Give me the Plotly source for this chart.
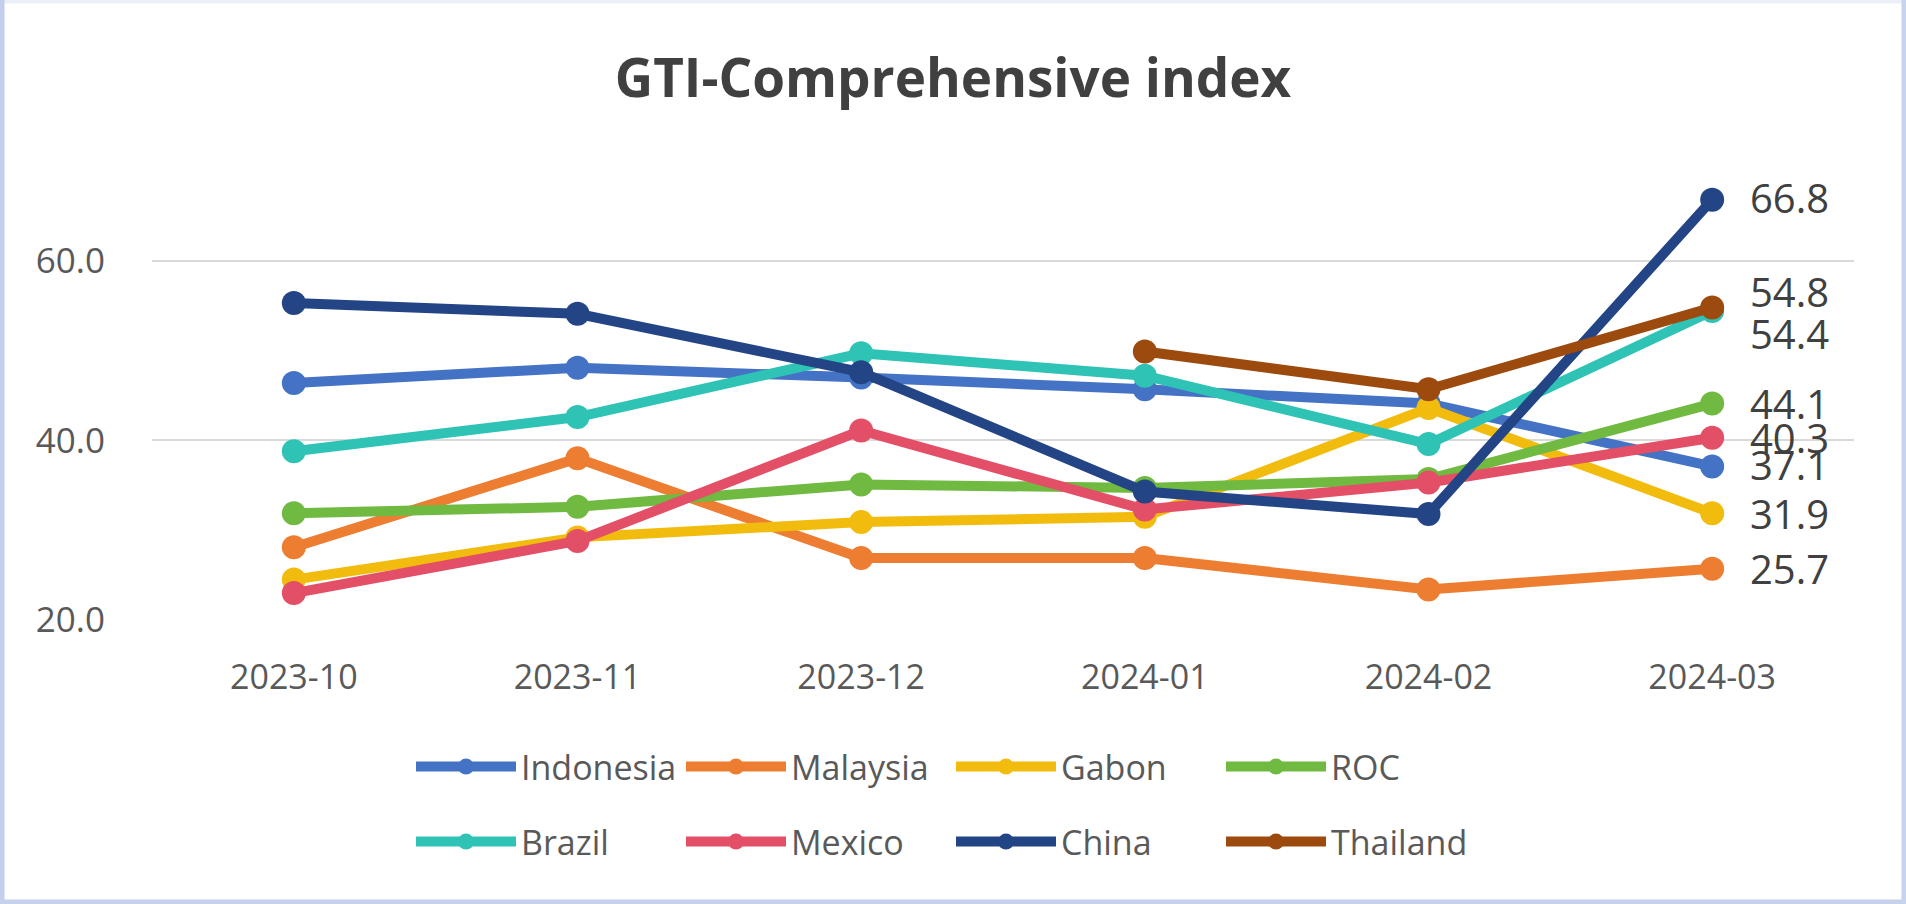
import plotly.graph_objects as go

months = ["2023-10", "2023-11", "2023-12", "2024-01", "2024-02", "2024-03"]
indonesia = [46.4, 48.1, 47.0, 45.7, 44.1, 37.1]
malaysia = [28.1, 38.0, 26.9, 26.9, 23.4, 25.7]
gabon = [24.5, 29.2, 30.9, 31.5, 43.6, 31.9]
roc = [31.9, 32.6, 35.1, 34.7, 35.7, 44.1]
brazil = [38.8, 42.6, 49.7, 47.2, 39.6, 54.4]
mexico = [23.0, 28.8, 41.1, 32.3, 35.3, 40.3]
china = [55.3, 54.1, 47.6, 34.3, 31.8, 66.8]
thailand = [None, None, None, 49.9, 45.7, 54.8]

# (name, values, colour, legend row, vertical label nudge in px)
series = [
    ("Indonesia", indonesia, "#4472C4", "legend", 2),
    ("Malaysia", malaysia, "#ED7D31", "legend", 0),
    ("Gabon", gabon, "#F2BC0F", "legend", 0),
    ("ROC", roc, "#70BA41", "legend", 0),
    ("Brazil", brazil, "#2EC3B5", "legend2", -22),
    ("Mexico", mexico, "#E34F66", "legend2", 0),
    ("China", china, "#234485", "legend2", 2),
    ("Thailand", thailand, "#9C4A0E", "legend2", 16),
]

FONT = "Open Sans"
GREY = "#595959"

fig = go.Figure()
for name, vals, color, lg, dy in series:
    fig.add_trace(go.Scatter(
        x=months, y=vals, name=name, mode="lines+markers",
        line=dict(color=color, width=10),
        marker=dict(color=color, size=24),
        legend=lg, cliponaxis=False,
    ))
    fig.add_annotation(x=months[-1], y=vals[-1], text=f"{vals[-1]:.1f}",
                       showarrow=False, xanchor="left", yanchor="middle",
                       xshift=36, yshift=dy,
                       font=dict(family=FONT, size=40, color="#404040"))

W, H = 1906, 904
ml, mr, mt, mb = 152, 52, 171, 284
PW, PH = W - ml - mr, H - mt - mb

legend_common = dict(orientation="h", xref="container", yref="container",
                     x=411 / W, xanchor="left", yanchor="middle",
                     entrywidth=155, itemwidth=100,
                     font=dict(family=FONT, size=34, color=GREY),
                     bgcolor="rgba(0,0,0,0)")

fig.update_layout(
    width=W, height=H,
    margin=dict(l=ml, r=mr, t=mt, b=mb, autoexpand=False),
    paper_bgcolor="white", plot_bgcolor="white",
    title=dict(text="<b>GTI-Comprehensive index</b>", x=0.5, xanchor="center",
               y=1 - 78 / H, yanchor="middle", yref="container",
               font=dict(family=FONT, size=53, color="#404040")),
    xaxis=dict(type="category", range=[-0.5, 5.5],
               showgrid=False, showline=False, ticks="", zeroline=False,
               tickfont=dict(family=FONT, size=34, color=GREY),
               ticklabelstandoff=34),
    yaxis=dict(range=[20, 70], tickvals=[20, 40, 60], tickformat=".1f",
               showgrid=True, gridcolor="#D9D9D9", gridwidth=2,
               zeroline=False, showline=False, ticks="",
               tickfont=dict(family=FONT, size=35, color=GREY),
               ticklabelstandoff=46),
    legend=dict(legend_common, y=1 - 767 / H),
    legend2=dict(legend_common, y=1 - 842 / H),
    showlegend=True,
)


def px_x(p):
    return (p - ml) / PW


def px_y(p):
    return (H - mb - p) / PH


# light bluish frame like the reference screenshot border
frame = [
    (px_x(0), px_y(1.5), px_x(W), px_y(1.5), "#EBEFF8", 4),        # top
    (px_x(2), px_y(0), px_x(2), px_y(H), "#C2CEEB", 5),            # left
    (px_x(0), px_y(H - 2), px_x(W), px_y(H - 2), "#C6D1EC", 5),    # bottom
    (px_x(W - 2), px_y(0), px_x(W - 2), px_y(H), "#C8D3EE", 5),    # right
]
for x0, y0, x1, y1, c, w in frame:
    fig.add_shape(type="line", xref="paper", yref="paper",
                  x0=x0, y0=y0, x1=x1, y1=y1,
                  line=dict(color=c, width=w), layer="below")

fig.write_html("out.html",
               config={"displayModeBar": False},
               post_script="document.body.style.margin='0';"
                           "document.body.style.overflow='hidden';")
